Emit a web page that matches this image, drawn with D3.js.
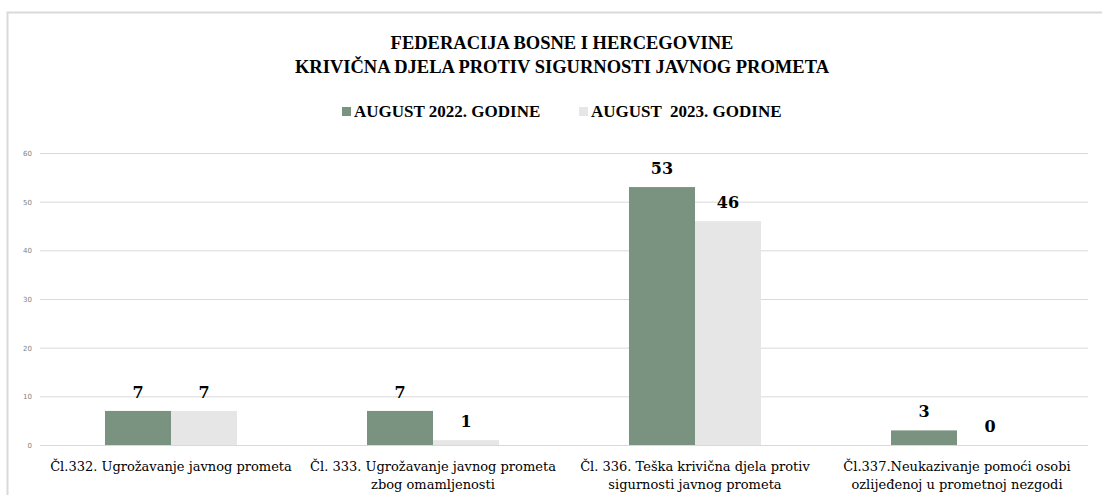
<!DOCTYPE html>
<html lang="bs">
<head>
<meta charset="UTF-8">
<title>Krivična djela</title>
<script src="https://d3js.org/d3.v7.min.js"></script>
<style>
  body { margin: 0; background: #fff; }
  svg text { font-family: "Liberation Serif", "DejaVu Serif", serif; }
</style>
</head>
<body>
<div id="chart"></div>
<script>
// data
var categories = [
  ["Čl.332. Ugrožavanje javnog prometa"],
  ["Čl. 333. Ugrožavanje javnog prometa", "zbog omamljenosti"],
  ["Čl. 336. Teška krivična djela protiv", "sigurnosti javnog prometa"],
  ["Čl.337.Neukazivanje pomoći osobi", "ozlijeđenoj u prometnoj nezgodi"]
];
var seriesNames = ["AUGUST 2022. GODINE", "AUGUST  2023. GODINE"];
var values2022 = [7, 7, 53, 3];
var values2023 = [7, 1, 46, 0];
var yTicks = [0, 10, 20, 30, 40, 50, 60];
var colors = ["#7A9381", "#E6E6E6"];

var W = 1102, H = 495;
var svg = d3.select("#chart").append("svg")
  .attr("width", W).attr("height", H);

// outer frame
svg.append("path")
  .attr("d", "M7.5," + H + "V12.5H" + W)
  .attr("fill", "none").attr("stroke", "#D9D9D9").attr("stroke-width", 2);

var x = d3.scaleBand().domain(d3.range(categories.length)).range([40, 1088]);
// bars 66px wide inside a 262px category
var xs = d3.scaleBand().domain([0, 1]).range([0, x.bandwidth()])
  .paddingInner(0).paddingOuter((x.bandwidth() / 66 - 2) / 2);
var y = d3.scaleLinear().domain([0, 60]).range([445, 153]);

// gridlines
svg.append("g").selectAll("line").data(yTicks).enter().append("line")
  .attr("x1", 40).attr("x2", 1088)
  .attr("y1", function(d) { return y(d) + 0.5; })
  .attr("y2", function(d) { return y(d) + 0.5; })
  .attr("stroke", "#D9D9D9").attr("stroke-width", 1);

svg.append("g").selectAll("text").data(yTicks).enter().append("text")
  .attr("x", 32).attr("y", function(d) { return y(d) + 3; })
  .attr("text-anchor", "end")
  .style("font-family", "'DejaVu Sans', sans-serif")
  .style("font-size", "7px").attr("fill", "#7F7F7F")
  .text(function(d) { return d; });

// bars
var series = [values2022, values2023];
series.forEach(function(vals, s) {
  var g = svg.append("g");
  g.selectAll("rect").data(vals).enter().append("rect")
    .attr("x", function(d, i) { return x(i) + xs(s); })
    .attr("width", xs.bandwidth())
    .attr("y", function(d) { return y(d); })
    .attr("height", function(d) { return y(0) - y(d); })
    .attr("fill", colors[s]);
  g.selectAll("text").data(vals).enter().append("text")
    .attr("x", function(d, i) { return x(i) + xs(s) + xs.bandwidth() / 2; })
    .attr("y", function(d) { return y(d) - 13; })
    .attr("text-anchor", "middle")
    .style("font-family", "'DejaVu Serif', serif")
    .style("font-size", "16px").style("font-weight", "bold")
    .attr("fill", "#000")
    .text(function(d) { return d; });
});

// category labels
var cl = svg.append("g").selectAll("text").data(categories).enter().append("text")
  .attr("x", function(d, i) { return x(i) + x.bandwidth() / 2; })
  .attr("y", 471)
  .attr("text-anchor", "middle")
  .style("font-family", "'DejaVu Serif', serif")
  .style("font-size", "13px").attr("fill", "#000");
cl.selectAll("tspan").data(function(d) { return d; }).enter().append("tspan")
  .attr("x", function() { return d3.select(this.parentNode).attr("x"); })
  .attr("dy", function(d, i) { return i ? 18 : 0; })
  .text(function(d) { return d; });

// title
var title = ["FEDERACIJA BOSNE I HERCEGOVINE", "KRIVIČNA DJELA PROTIV SIGURNOSTI JAVNOG PROMETA"];
svg.append("g").selectAll("text").data(title).enter().append("text")
  .attr("x", 562).attr("y", function(d, i) { return 49 + i * 24; })
  .attr("text-anchor", "middle")
  .style("font-size", "18.5px").style("font-weight", "bold")
  .attr("fill", "#000")
  .text(function(d) { return d; });

// legend
var legX = [342, 579];
var leg = svg.append("g").selectAll("g").data(seriesNames).enter().append("g");
leg.append("rect")
  .attr("x", function(d, i) { return legX[i]; }).attr("y", 107)
  .attr("width", 9).attr("height", 9)
  .attr("fill", function(d, i) { return colors[i]; });
leg.append("text")
  .attr("x", function(d, i) { return legX[i] + 12; }).attr("y", 117)
  .style("font-size", "17px").style("font-weight", "bold")
  .attr("xml:space", "preserve")
  .attr("fill", "#000")
  .text(function(d) { return d; });
</script>
</body>
</html>
